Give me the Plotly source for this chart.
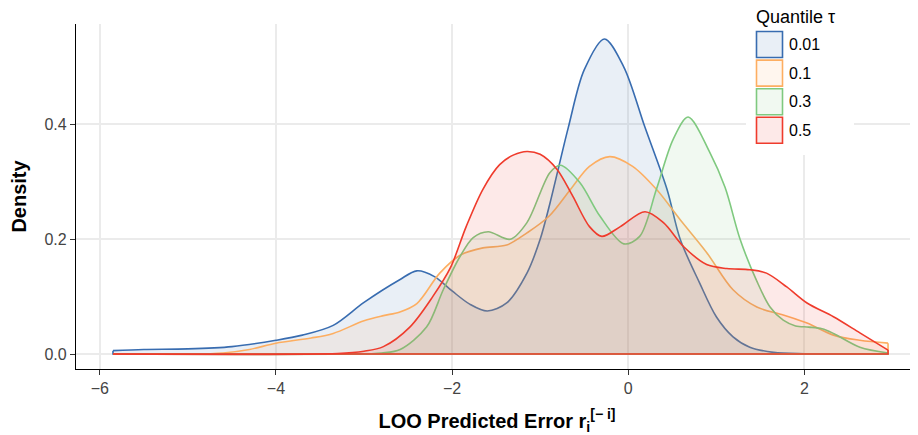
import plotly.graph_objects as go

# ---------------- data ----------------
quantiles = ["0.01", "0.1", "0.3", "0.5"]
line_colors = ["#386CB0", "#FDAE61", "#7FC97F", "#EF3B2C"]
fill_colors = ["rgba(56,108,176,0.11)", "rgba(253,174,97,0.11)",
               "rgba(127,201,127,0.11)", "rgba(239,59,44,0.11)"]

blue_x = [-5.85, -5.5, -5.0, -4.5, -4.0, -3.7, -3.35, -3.0, -2.6, -2.4, -2.2, -2.0, -1.8, -1.6,
          -1.38, -1.15, -1.0, -0.89, -0.68, -0.5, -0.27, -0.05, 0.19, 0.44, 0.59, 0.81, 1.0,
          1.19, 1.38, 1.65, 2.0, 2.95]
blue_y = [0.006, 0.008, 0.009, 0.013, 0.024, 0.033, 0.05, 0.09, 0.129, 0.145, 0.135, 0.11, 0.087,
          0.075, 0.089, 0.141, 0.2, 0.262, 0.395, 0.495, 0.549, 0.5, 0.395, 0.287, 0.2, 0.124,
          0.065, 0.03, 0.012, 0.003, 0.0005, 0.0]

orange_x = [-5.85, -5.0, -4.6, -4.3, -4.0, -3.6, -3.35, -3.0, -2.78, -2.6, -2.4, -2.14, -1.9,
            -1.65, -1.38, -1.15, -0.9, -0.63, -0.44, -0.21, 0.05, 0.32, 0.59, 0.89, 1.19, 1.46,
            1.76, 2.03, 2.33, 2.63, 2.95]
orange_y = [0.0, 0.0, 0.002, 0.008, 0.019, 0.028, 0.036, 0.058, 0.067, 0.073, 0.088, 0.141, 0.173,
            0.185, 0.19, 0.211, 0.24, 0.292, 0.327, 0.344, 0.327, 0.287, 0.234, 0.177, 0.112,
            0.082, 0.068, 0.054, 0.033, 0.024, 0.019]

green_x = [-5.85, -3.2, -2.8, -2.59, -2.29, -2.1, -1.91, -1.76, -1.59, -1.34, -1.15, -0.89, -0.77,
           -0.55, -0.32, -0.05, 0.13, 0.32, 0.51, 0.68, 0.93, 1.1, 1.27, 1.46, 1.61, 1.76, 1.9,
           2.05, 2.2, 2.33, 2.63, 2.95]
green_y = [0.0, 0.0, 0.002, 0.008, 0.047, 0.112, 0.17, 0.203, 0.213, 0.2, 0.229, 0.316, 0.329,
           0.299, 0.24, 0.192, 0.205, 0.287, 0.374, 0.413, 0.35, 0.29, 0.2, 0.127, 0.082, 0.059,
           0.049, 0.047, 0.044, 0.036, 0.012, 0.002]

red_x = [-5.85, -3.3, -3.0, -2.78, -2.48, -2.22, -2.02, -1.84, -1.65, -1.46, -1.3, -1.15, -1.0,
         -0.81, -0.63, -0.44, -0.3, -0.09, 0.19, 0.40, 0.63, 0.89, 1.12, 1.38, 1.57, 1.8, 2.03,
         2.33, 2.63, 2.95]
red_y = [0.0, 0.001, 0.005, 0.013, 0.047, 0.1, 0.15, 0.222, 0.287, 0.33, 0.347, 0.353, 0.348,
         0.322, 0.275, 0.222, 0.205, 0.222, 0.248, 0.229, 0.187, 0.156, 0.149, 0.147, 0.141,
         0.117, 0.089, 0.065, 0.037, 0.007]

series_x = [blue_x, orange_x, green_x, red_x]
series_y = [blue_y, orange_y, green_y, red_y]

x_ticks = [-6, -4, -2, 0, 2]
y_ticks = [0.0, 0.2, 0.4]
x_title = "LOO Predicted Error r<sub>i</sub><sup>[− i]</sup>"
y_title = "Density"
legend_title = "Quantile τ"

# ---------------- figure ----------------
OFF = 8                      # page body margin of the html page
W, H = 918 - OFF, 435 - OFF
ML, MR, MT, MB = 76 - OFF, 0, 24 - OFF, 435 - 369
FONT = "Liberation Sans, Arial, Helvetica, sans-serif"

fig = go.Figure()
for name, xs, ys, lc, fc in zip(quantiles, series_x, series_y, line_colors, fill_colors):
    # density area with smooth upper outline
    fig.add_trace(go.Scatter(
        x=xs, y=ys, name=name, mode="lines", fill="tozeroy", fillcolor=fc,
        line=dict(color=lc, width=1.6, shape="spline", smoothing=0.9),
        showlegend=False, hoverinfo="skip"))
    # polygon outline: end edge, baseline, start edge
    fig.add_trace(go.Scatter(
        x=[xs[-1], xs[-1], xs[0], xs[0]], y=[ys[-1], 0.0, 0.0, ys[0]],
        mode="lines", line=dict(color=lc, width=1.6), showlegend=False, hoverinfo="skip"))

fig.update_layout(
    width=W, height=H,
    margin=dict(l=ML, r=MR, t=MT, b=MB, autoexpand=False),
    paper_bgcolor="white", plot_bgcolor="white",
    font=dict(family=FONT, size=16, color="#000000"),
    showlegend=False,
)
fig.update_xaxes(
    range=[-6.27, 3.29], tickvals=x_ticks, tickformat="d", automargin=False,
    showgrid=True, gridcolor="#EBEBEB", gridwidth=1.5, zeroline=False,
    showline=True, linecolor="#000000", linewidth=1.2,
    ticks="outside", ticklen=5, tickcolor="#333333", tickwidth=1,
    tickfont=dict(size=16, color="#444444"),
    title=dict(text=x_title, font=dict(size=20, color="#000000", family=FONT, weight="bold"),
               standoff=19),
)
fig.update_yaxes(
    range=[-0.026, 0.575], tickvals=y_ticks, tickformat=".1f", automargin=False,
    showgrid=True, gridcolor="#EBEBEB", gridwidth=1.5, zeroline=False,
    showline=True, linecolor="#000000", linewidth=1.2,
    ticks="outside", ticklen=5, tickcolor="#333333", tickwidth=1,
    tickfont=dict(size=16, color="#444444"),
    title=dict(text=y_title, font=dict(size=20, color="#000000", family=FONT, weight="bold"),
               standoff=17),
)

# ---------------- legend (drawn as shapes + text, ggplot style) ----------------
PW, PH = W - ML - MR, H - MT - MB


def pxx(p):  # page pixel -> paper x
    return (p - OFF - ML) / PW


def pxy(p):  # page pixel -> paper y
    return (H - MB - (p - OFF)) / PH


shapes = [dict(type="rect", xref="paper", yref="paper", layer="above",
               x0=pxx(746), x1=pxx(854), y0=pxy(155), y1=pxy(8),
               fillcolor="white", line=dict(width=0))]
annotations = [dict(text=legend_title, xref="paper", yref="paper", x=pxx(754), y=pxy(17),
                    xanchor="left", yanchor="middle", showarrow=False,
                    font=dict(size=18, color="#000000", family=FONT))]
key_top, key_pitch, key_size = 31.5, 28.6, 26
for i, (name, lc, fc) in enumerate(zip(quantiles, line_colors, fill_colors)):
    top = key_top + i * key_pitch
    shapes.append(dict(type="rect", xref="paper", yref="paper", layer="above",
                       x0=pxx(756.5), x1=pxx(756.5 + key_size), y0=pxy(top + key_size), y1=pxy(top),
                       fillcolor=fc, line=dict(color=lc, width=1.6)))
    annotations.append(dict(text=name, xref="paper", yref="paper", x=pxx(786.5),
                            y=pxy(top + key_size / 2), xanchor="left", yanchor="middle",
                            showarrow=False, font=dict(size=16, color="#000000", family=FONT)))
fig.update_layout(shapes=shapes, annotations=annotations)

fig.write_html("out.html", config={"displayModeBar": False})
